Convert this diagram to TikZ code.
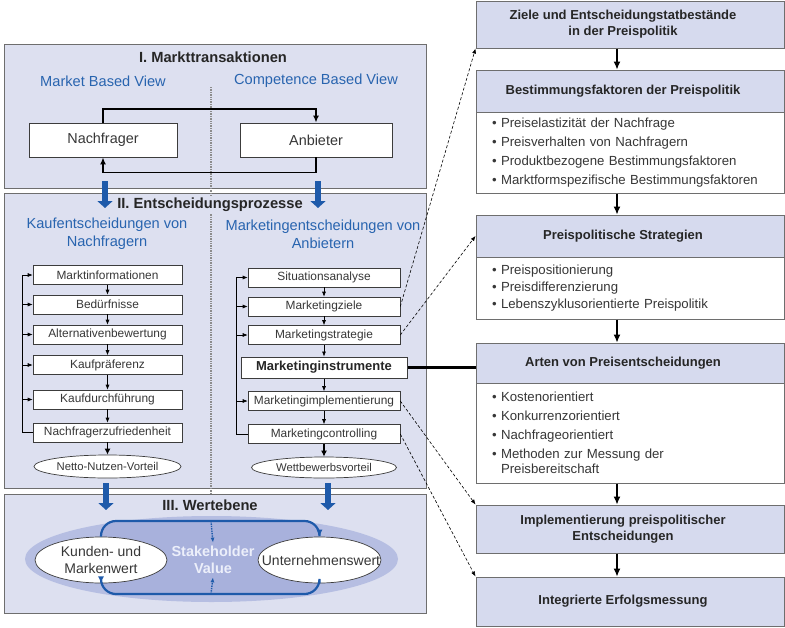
\documentclass[tikz,border=0pt]{standalone}
\usepackage{fontspec}
\setmainfont{Liberation Sans}
\usetikzlibrary{arrows.meta,shapes.geometric}

\definecolor{panelfill}{RGB}{221,224,240}
\definecolor{headfill}{RGB}{214,218,238}
\definecolor{panelline}{RGB}{110,110,110}
\definecolor{boxline}{RGB}{60,60,60}
\definecolor{textgray}{RGB}{55,55,55}
\definecolor{viewblue}{RGB}{40,100,175}
\definecolor{arrowblue}{RGB}{30,90,170}
\definecolor{ringfill}{RGB}{182,190,226}
\definecolor{corefill}{RGB}{168,177,220}
\definecolor{valuetext}{RGB}{236,239,250}

\tikzset{
  panel/.style={draw=panelline, fill=panelfill, line width=1pt},
  paneltitle/.style={font=\fontsize{14.7}{17}\selectfont\bfseries, text=black!85},
  viewtext/.style={font=\fontsize{14.6}{18}\selectfont, text=viewblue, align=center},
  actor/.style={draw=boxline, fill=white, line width=0.8pt, minimum height=34pt, font=\fontsize{14.4}{17}\selectfont, text=textgray},
  stepbox/.style={draw=boxline, fill=white, line width=0.6pt, minimum height=19pt, inner sep=1pt, font=\fontsize{11.9}{13}\selectfont, text=textgray},
  resultell/.style={ellipse, draw=boxline, fill=white, line width=0.7pt, inner sep=0pt, font=\fontsize{11.3}{13}\selectfont, text=textgray},
  headbox/.style={draw=panelline, fill=headfill, line width=1pt, minimum width=308pt},
  headtext/.style={font=\fontsize{13}{16}\selectfont\bfseries, text=black!85, align=center, xshift=-7pt},
  bodybox/.style={draw=panelline, fill=white, line width=1pt, text width=276pt, inner xsep=16pt, align=left, font=\fontsize{13.2}{19}\selectfont, text=textgray},
  divider/.style={densely dotted, line width=1.4pt, black!45},
  loopline/.style={-{Latex[length=7pt,width=6pt]}, line width=1.8pt},
  bigflow/.style={-{Triangle[length=7pt,width=15pt]}, line width=6pt, arrowblue},
  chainarrow/.style={-{Latex[length=8pt,width=7pt]}, line width=1.2pt},
  linkline/.style={->, densely dashed, line width=0.6pt},
  ringline/.style={-{Latex[length=7pt,width=6pt]}, line width=2.2pt, arrowblue, rounded corners=15pt},
  valuedot/.style={->, densely dotted, line width=1.4pt, arrowblue},
}

\begin{document}
\begin{tikzpicture}[x=1pt, y=-1pt, >={Latex[length=5pt,width=4pt]}]

\useasboundingbox (0,0) rectangle (785,627);

\draw[panel] (4,44) rectangle (426,188);

\draw[panel] (4,193) rectangle (426,488);

\draw[panel] (4,494) rectangle (426,613);

\draw[divider] (211,87) -- (211,493);

% I. Markttransaktionen
\node[paneltitle] (t1) at (213,57) {I. Markttransaktionen};
\node[viewtext] (mbv) at (103,81) {Market Based View};
\node[viewtext] (cbv) at (316,81) {Competence Based View};

\node[actor, minimum width=148pt] (nf) at (103,140) {Nachfrager};
\node[actor, minimum width=152pt] (ab) at (316,140) {Anbieter};

\draw[loopline] (nf.north) -- ++(0,-14) -| (ab.north);
\draw[loopline] (ab.south) -- ++(0,15) -| (nf.south);

\coordinate (d1) at (105,181);
\coordinate (d2) at (318,181);
\draw[bigflow] (d1) -- ++(0,27);
\draw[bigflow] (d2) -- ++(0,27);

% II. Entscheidungsprozesse
\node[paneltitle, fill=panelfill, inner sep=1pt] (t2) at (210,205) {II. Entscheidungsprozesse};
\node[viewtext] (kv) at (107,234) {Kaufentscheidungen von\\Nachfragern};
\node[viewtext] (mv) at (323,234) {Marketingentscheidungen von\\Anbietern};

\node[stepbox, minimum width=149pt] (mi) at (107.5,275) {Marktinformationen};
\node[stepbox, minimum width=149pt] (bd) at (107.5,304.5) {Bedürfnisse};
\node[stepbox, minimum width=149pt] (av) at (107.5,334.5) {Alternativenbewertung};
\node[stepbox, minimum width=149pt] (kp) at (107.5,365) {Kaufpräferenz};
\node[stepbox, minimum width=149pt] (kd) at (107.5,399.5) {Kaufdurchführung};
\node[stepbox, minimum width=149pt] (nz) at (107.5,432.5) {Nachfragerzufriedenheit};
\node[resultell, minimum width=147pt, minimum height=23pt] (nnv) at (107.5,466.5) {Netto-Nutzen-Vorteil};

\foreach \a/\b in {mi/bd, bd/av, av/kp, kp/kd, kd/nz}
  \draw[->, line width=0.6pt] (\a) -- (\b);
\draw[-{Latex[length=6pt,width=6pt]}, line width=1.8pt] (nz) -- (nnv);

\coordinate (lx) at (22,0);
\draw[line width=0.6pt] (nz.west) -| (lx |- mi.west);
\foreach \b in {mi, bd, av, kp, kd}
  \draw[->, line width=0.6pt] (lx |- \b.west) -- (\b.west);

\node[stepbox, minimum width=152pt] (sa) at (324,277.5) {Situationsanalyse};
\node[stepbox, minimum width=152pt] (mz) at (324,306.5) {Marketingziele};
\node[stepbox, minimum width=152pt] (ms) at (324,335) {Marketingstrategie};
\node[stepbox, minimum width=166pt, minimum height=21pt, line width=1pt, text=black!85, font=\fontsize{13}{15}\selectfont\bfseries] (min) at (324,367.5) {Marketinginstrumente};
\node[stepbox, minimum width=152pt] (mim) at (324,401) {Marketingimplementierung};
\node[stepbox, minimum width=152pt] (mc) at (324,434) {Marketingcontrolling};
\node[resultell, minimum width=145pt, minimum height=21pt] (wv) at (324,467.5) {Wettbewerbsvorteil};

\foreach \a/\b in {sa/mz, mz/ms, ms/min, min/mim, mim/mc}
  \draw[->, line width=0.6pt] (\a) -- (\b);
\draw[-{Latex[length=6pt,width=6pt]}, line width=1.8pt] (mc) -- (wv);

\coordinate (rx) at (236,0);
\draw[line width=0.6pt] (mc.west) -| (rx |- sa.west);
\foreach \b in {sa, mz, ms, mim}
  \draw[->, line width=0.6pt] (rx |- \b.west) -- (\b.west);

\coordinate (d3) at (106,483);
\coordinate (d4) at (328,483);
\draw[bigflow] (d3) -- ++(0,27);
\draw[bigflow] (d4) -- ++(0,27);

% III. Wertebene
\node[paneltitle] (t3) at (210,505) {III. Wertebene};
\node[ellipse, fill=ringfill, minimum width=373pt, minimum height=86pt] (sv) at (211.5,559) {};
\fill[corefill, rounded corners=15pt] (101,560) |- (211,521) -| (319,560) |- (211,594) -| (101,560) -- cycle;

\node[resultell, minimum width=132pt, minimum height=46pt, align=center, font=\fontsize{14}{17}\selectfont] (kw) at (101,560) {Kunden- und\\Markenwert};
\node[resultell, minimum width=123pt, minimum height=46pt, font=\fontsize{14}{17}\selectfont] (uw) at (319.5,560) {\makebox[0pt]{\hspace{3pt}Unternehmenswert}};

\draw[ringline] (kw.north) |- (211,521) -| (uw.north);
\draw[ringline] (uw.south) |- (211,594) -| (kw.south);

\node[align=center, text=valuetext, font=\fontsize{14.5}{17}\selectfont\bfseries] (svt) at (213,560) {Stakeholder\\Value};
\coordinate (vt) at (211,521);
\coordinate (vb) at (211,594);
\draw[valuedot] (vt) -- (svt.north);
\draw[valuedot] (vb) -- (svt.south);

% Preispolitik
\node[headbox, minimum height=47pt, label={[headtext]center:Ziele und Entscheidungstatbestände\\in der Preispolitik}] (zp) at (630,24.5) {};

\node[headbox, minimum height=42pt, label={[headtext]center:Bestimmungsfaktoren der Preispolitik}] (bf) at (630,91) {};
\node[bodybox, minimum height=81pt] (bfl) at (630,152.5) {\textbullet{} Preiselastizität der Nachfrage\\\textbullet{} Preisverhalten von Nachfragern\\\textbullet{} Produktbezogene Bestimmungsfaktoren\\\textbullet{} Marktformspezifische Bestimmungsfaktoren};

\node[headbox, minimum height=42pt, label={[headtext]center:Preispolitische Strategien}] (ps) at (630,236) {};
\node[bodybox, minimum height=62pt, font=\fontsize{13.2}{17}\selectfont] (psl) at (630,288) {\textbullet{} Preispositionierung\\\textbullet{} Preisdifferenzierung\\\textbullet{} Lebenszyklusorientierte Preispolitik};

\node[headbox, minimum height=40pt, label={[headtext]center:Arten von Preisentscheidungen}] (ap) at (630,363) {};
\node[bodybox, minimum height=100pt] (apl) at (630,433) {\textbullet{} Kostenorientiert\\\textbullet{} Konkurrenzorientiert\\\textbullet{} Nachfrageorientiert\\\textbullet{} Methoden zur Messung der\\[-4pt]\phantom{\textbullet}\ Preisbereitschaft};

\node[headbox, minimum height=48pt, label={[headtext]center:Implementierung preispolitischer\\Entscheidungen}] (im) at (630,529) {};

\node[headbox, minimum height=49pt, label={[headtext]center:Integrierte Erfolgsmessung}] (ie) at (630,601.5) {};

\coordinate (cx) at (617,0);
\foreach \a/\b in {zp/bf, bfl/ps, psl/ap, apl/im, im/ie}
  \draw[chainarrow] (\a.south -| cx) -- (\b.north -| cx);

\draw[linkline] (mz.east) -- (zp.south west);
\draw[linkline] (ms.east) -- (ps.west);
\draw[line width=2.4pt] (min.east) -- (min.east -| ap.west);
\draw[linkline] (mim.east) -- (im.north west);
\draw[linkline] (mc.east) -- (ie.north west);

\end{tikzpicture}
\end{document}
